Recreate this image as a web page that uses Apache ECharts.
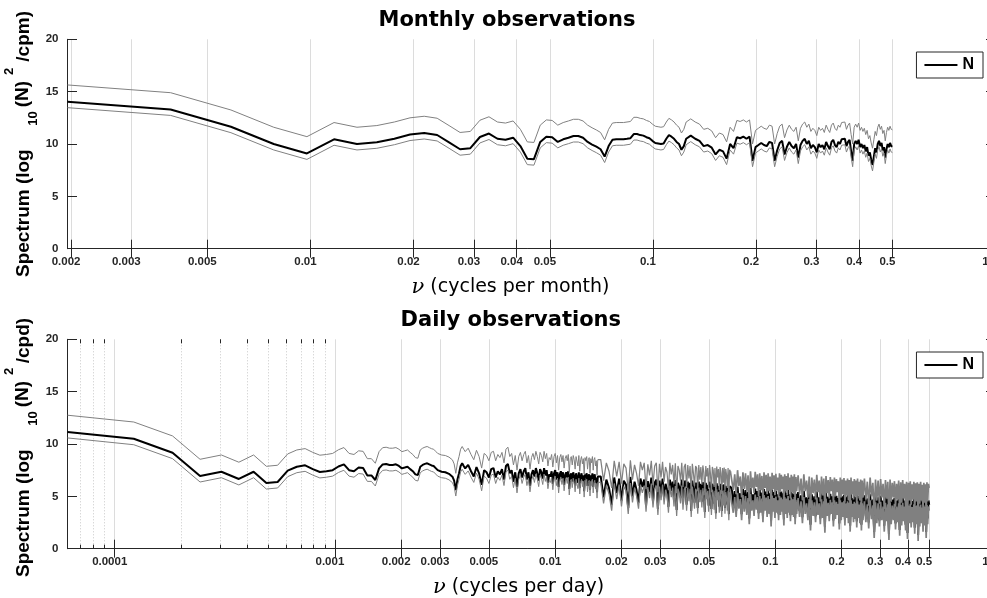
<!DOCTYPE html>
<html><head><meta charset="utf-8">
<script src="https://cdn.jsdelivr.net/npm/echarts@6/dist/echarts.min.js"></script>
<style>html,body{margin:0;padding:0;background:#fff}#c{width:987px;height:598px}</style>
</head><body><div id="c"></div>
<script>
// ---------------- DATA ----------------
// Frequencies are the Fourier harmonics k/N of each record.
const monthlyN = 512;
const monthlyLowStartK = 1, monthlyLowStepK = 1;
const monthlyLow = [14.04, 13.3, 11.65, 10.0, 9.1, 10.45, 10.0, 10.16, 10.5, 10.9,
 11.05, 10.86, 10.16, 9.5, 9.6, 10.67, 11.0, 10.5, 10.4, 10.6,
 9.8, 8.6, 8.55, 10.2, 10.7, 10.65, 10.2, 10.45, 10.6, 10.76,
 10.76, 10.6, 10.2, 9.95, 9.74, 9.5, 8.8, 9.8, 10.4, 10.45,
 10.45, 10.45, 10.5, 10.55, 10.95, 10.95, 10.85, 10.8, 10.65, 10.55,
 10.3, 10.1, 10.05, 10.0, 10.05, 10.5, 10.85, 10.7, 10.5, 10.2,
 10.0, 9.45, 9.8, 10.5];
const monthlyHighStartK = 66, monthlyHighStepK = 2;
const monthlyHigh = [10.8, 10.5, 10.3, 9.8, 9.9, 9.65, 9.0, 9.45, 9.3, 8.6,
 10.0, 9.6, 10.65, 10.55, 10.7, 10.5, 10.7, 8.4, 9.7, 9.9,
 10.1, 9.9, 9.8, 10.2, 10.1, 8.4, 9.4, 10.1, 10.3, 9.0,
 9.74, 10.2, 9.8, 9.6, 10.0, 8.7, 9.9, 10.3, 10.5, 10.0,
 10.3, 9.6, 9.9, 9.7, 9.2, 10.0, 9.7, 9.9, 9.5, 10.2,
 9.8, 9.5, 10.2, 10.4, 9.9, 9.7, 10.2, 10.0, 10.45, 10.3,
 10.5, 9.8, 10.2, 10.4, 9.3, 8.4, 10.0, 10.3, 10.0, 10.4,
 9.7, 10.0, 9.6, 9.9, 9.3, 9.7, 8.9, 9.2, 8.5, 8.0,
 8.8, 9.6, 9.2, 10.0, 10.3, 9.8, 10.1, 9.4, 9.7, 8.7,
 9.5, 10.0, 9.7, 10.1, 9.8, 9.75];

const dailyN = 16384;
const dailyAStartK = 1, dailyAStepK = 1;
const dailyA = [11.15, 10.5, 9.17, 6.94, 7.35, 6.66, 7.35, 6.27, 6.37, 7.45,
 7.83, 7.96, 7.6, 7.33, 7.4, 7.5, 7.85, 8.06, 7.5, 7.4,
 7.75, 7.7, 7.0, 7.0, 6.56, 7.67, 8.05, 8.09, 8.0, 8.0,
 8.06, 7.9, 7.67, 7.75, 7.83, 7.6, 7.4, 7.1, 7.04, 7.83,
 8.0, 8.1, 8.16, 8.05, 7.95, 7.9, 7.7, 7.5, 7.35, 7.35,
 7.4, 7.3, 7.3, 7.15, 7.0, 6.88, 6.5, 5.6, 6.6, 7.2,
 7.9, 8.16, 7.9, 7.67];
const dailyBStartK = 66, dailyBStepK = 2;
const dailyB = [8.0, 7.4, 6.9, 7.8, 7.2, 6.1, 7.5, 7.3, 6.8, 7.6,
 7.7, 6.8, 7.4, 7.1, 7.6, 6.6, 7.9, 8.1, 7.2, 7.5,
 6.4, 7.3, 5.9, 7.2, 7.6, 6.8, 7.4, 7.7, 6.6, 7.3,
 6.0, 7.1, 7.5, 6.9, 7.7, 7.2, 6.5, 7.6, 7.3, 6.7,
 7.7, 7.0, 7.5, 6.3, 7.1, 6.9, 7.4, 6.2, 7.2, 7.5,
 6.6, 7.3, 5.9, 7.1, 7.4, 6.7, 7.3, 6.1, 7.0, 7.3,
 6.8, 7.4, 5.7, 7.0, 7.2, 6.4, 7.3, 6.9, 6.0, 7.2,
 7.1, 6.3, 7.3, 5.8, 6.9, 7.2, 6.5, 7.0, 5.5, 7.1,
 6.8, 7.2, 6.0, 6.9, 7.1, 5.6, 7.0, 6.6, 7.2, 5.9,
 6.9, 7.1, 6.3, 6.8, 5.4, 6.9];
const dailyCStartK = 264, dailyCStepK = 8;
const dailyC = [6.9, 4.9, 6.6, 5.8, 4.2, 6.8, 5.3, 6.7, 4.6, 6.5, 6.1, 3.9,
 6.85, 5.0, 6.4, 5.6, 4.4, 6.7, 5.9, 6.6, 4.1, 6.45, 5.4, 6.8,
 4.5, 6.3, 6.6, 3.8, 6.5, 5.2, 6.7, 4.8, 6.2, 5.7, 4.0, 6.6,
 5.5, 6.4, 4.6, 6.55, 3.7, 6.3, 5.9, 4.9, 6.6, 4.3, 6.2, 6.5,
 4.2, 6.4, 5.1, 6.3, 3.6, 6.5, 5.6, 4.4, 6.3, 6.1, 3.9, 6.4,
 5.0, 6.2, 4.5, 6.35, 5.7, 3.5, 6.3, 5.3, 6.1, 4.1, 6.4, 5.5,
 3.8, 6.2, 5.9, 4.3, 6.1, 3.4, 6.25, 5.2, 6.0, 4.0, 6.2, 5.6,
 3.6, 6.1, 4.7, 6.15, 3.9, 6.0, 5.4, 4.2, 6.1, 3.3, 5.95, 5.8];
const dailyD1StartK = 1040, dailyD1StepK = 16;
const dailyD1 = [5.8, 4.0, 5.5, 3.6, 5.9, 4.4, 5.3, 3.3, 5.7, 4.1, 5.6, 3.8, 5.4, 2.9, 5.8, 4.2,
 5.2, 3.7, 5.75, 4.3, 5.5, 3.4, 5.6, 4.0, 5.35, 3.1, 5.7, 4.2, 5.45, 3.6, 5.6, 3.9,
 5.3, 2.7, 5.65, 4.1, 5.4, 3.5, 5.55, 4.0, 5.2, 3.3, 5.6, 3.8, 5.45, 4.1, 5.3, 2.8,
 5.5, 3.9, 5.35, 3.5, 5.6, 4.0, 5.2, 3.2, 5.45, 3.8, 5.3, 3.6, 5.5, 2.9, 5.25, 3.9];
const dailyD2StartK = 2080, dailyD2StepK = 32;
const dailyD2 = [5.4, 3.6, 5.1, 3.0, 5.5, 3.9, 4.9, 3.3, 5.3, 2.3, 5.2, 3.7, 5.0, 3.1, 5.45, 3.8,
 4.9, 2.9, 5.3, 3.5, 5.1, 2.1, 5.35, 3.7, 4.95, 3.2, 5.25, 3.9, 5.0, 2.7, 5.2, 3.4,
 5.05, 3.8, 4.85, 2.4, 5.2, 3.3, 5.0, 3.6, 5.15, 2.8, 4.9, 3.5, 5.1, 3.0, 4.95, 2.2,
 5.2, 3.6, 4.85, 3.1, 5.05, 3.4, 4.9, 2.6, 5.1, 3.5, 4.8, 3.0, 5.0, 2.3, 4.9, 3.3];
const dailyD3StartK = 4160, dailyD3StepK = 64;
const dailyD3 = [5.1, 3.1, 4.8, 2.5, 5.2, 3.4, 4.7, 1.6, 5.0, 3.0, 4.9, 2.7, 5.05, 3.3, 4.6, 2.2,
 4.95, 3.2, 4.8, 1.4, 5.0, 2.9, 4.7, 3.3, 4.85, 2.4, 4.6, 3.1, 4.9, 1.8, 4.75, 2.8,
 4.95, 3.2, 4.6, 2.3, 4.8, 1.5, 4.7, 3.0, 4.85, 2.6, 4.55, 3.1, 4.8, 2.0, 4.65, 2.9,
 4.75, 1.3, 4.6, 2.7, 4.8, 3.0, 4.5, 2.2, 4.7, 2.8, 4.55, 1.6, 4.75, 2.9, 4.6, 4.2];

// 95% confidence limits (2 d.o.f.) read as constant log10 offsets from the estimate
const ciUpperOffset = 1.6;
const ciLowerOffset = -0.57;

const monthlyTicks = [0.002, 0.003, 0.005, 0.01, 0.02, 0.03, 0.04, 0.05, 0.1, 0.2, 0.3, 0.4, 0.5, 1];
const dailyTicks = [0.0001, 0.001, 0.002, 0.003, 0.005, 0.01, 0.02, 0.03, 0.05, 0.1, 0.2, 0.3, 0.4, 0.5, 1];
const dailyMinorTicks = [0.00007, 0.00008, 0.00009, 0.0002, 0.0003, 0.0004, 0.0005, 0.0006, 0.0007, 0.0008, 0.0009];

// ---------------- BUILD ----------------
function seg(N, k0, dk, vals) { return vals.map((v, i) => [(k0 + i * dk) / N, v]); }
const monthlyEst = seg(monthlyN, monthlyLowStartK, monthlyLowStepK, monthlyLow)
  .concat(seg(monthlyN, monthlyHighStartK, monthlyHighStepK, monthlyHigh));
const dailyLowEst = seg(dailyN, dailyAStartK, dailyAStepK, dailyA)
  .concat(seg(dailyN, dailyBStartK, dailyBStepK, dailyB));
const dailyMidEst = seg(dailyN, dailyCStartK, dailyCStepK, dailyC);
const dailyHighEst = seg(dailyN, dailyD1StartK, dailyD1StepK, dailyD1)
  .concat(seg(dailyN, dailyD2StartK, dailyD2StepK, dailyD2))
  .concat(seg(dailyN, dailyD3StartK, dailyD3StepK, dailyD3));
const dailyEst = dailyLowEst.concat(dailyMidEst, dailyHighEst);
const shift = (arr, d) => arr.map(p => [p[0], p[1] + d]);

const AX = '#262626', GRID = '#dcdcdc';
const LBL = { fontFamily: 'Liberation Sans', fontWeight: 'bold', fontSize: 11.5, color: AX };
const fmt = v => {
  const s = String(parseFloat(Number(v).toPrecision(6)));
  return s === '1' ? '{e|1}' : s;   // edge label sits a little further in, as in the picture
};

function mainX(grid, min, ticks) {
  return {
    type: 'log', logBase: 10, gridIndex: grid, min: min, max: 1, position: 'bottom',
    axisLine: { show: true, lineStyle: { color: AX, width: 1 } },
    axisTick: { show: true, inside: true, length: 9, customValues: ticks, lineStyle: { color: AX } },
    axisLabel: Object.assign({ show: true, customValues: ticks, formatter: fmt, margin: 7, padding: [0, 10, 0, 0],
      rich: { e: { fontFamily: 'Liberation Sans', fontWeight: 'bold', fontSize: 11.5, color: AX, padding: [0, 10, 0, 0] } } }, LBL),
    splitLine: { show: true, lineStyle: { color: GRID, width: 1 } },
    minorTick: { show: false }, minorSplitLine: { show: false }
  };
}
function boxX(grid, min, ticks, pos, len, show, split) {
  return {
    type: 'log', logBase: 10, gridIndex: grid, min: min, max: 1, position: pos,
    axisLine: { show: show, lineStyle: { color: AX, width: 1 } },
    axisTick: { show: true, inside: true, length: len, customValues: ticks, lineStyle: { color: AX } },
    axisLabel: { show: false },
    splitLine: split ? { show: true, lineStyle: { color: '#c8c8c8', width: 1, type: [1, 2] } } : { show: false }
  };
}
function yAx(grid, pos, labels) {
  return {
    type: 'value', gridIndex: grid, min: 0, max: 20, interval: 5, position: pos,
    axisLine: { show: true, lineStyle: { color: AX, width: 1 } },
    axisTick: { show: true, inside: true, length: 9.5, lineStyle: { color: AX } },
    axisLabel: Object.assign({ show: labels, margin: 9 }, LBL),
    splitLine: { show: false }
  };
}
function line(name, xi, yi, data, color, width, z) {
  return { type: 'line', name: name, xAxisIndex: xi, yAxisIndex: yi, data: data, symbol: 'none', showSymbol: false,
    lineStyle: { color: color, width: width }, itemStyle: { color: color }, z: z };
}
// gray confidence limits, drawn over the estimate; line weight increases where harmonics are densest
function ciLines(xi, yi, parts) {
  const out = [];
  parts.forEach(p => {
    out.push(line('upper', xi, yi, shift(p.data, ciUpperOffset), '#808080', p.w, 3));
    out.push(line('lower', xi, yi, shift(p.data, ciLowerOffset), '#808080', p.w, 3));
  });
  return out;
}
function legend(top) {
  return { data: ['N'], right: 4, top: top, padding: [5, 9, 5, 8], itemWidth: 33, itemHeight: 2, icon: 'rect',
    borderColor: AX, borderWidth: 1, backgroundColor: '#fff', selectedMode: false,
    textStyle: { fontFamily: 'Liberation Sans', fontWeight: 'bold', fontSize: 16, color: '#000' } };
}
function txt(x, y, text, font, rot, align) {
  return { type: 'text', x: x, y: y, rotation: rot || 0, silent: true,
    style: { text: text, font: font, fill: '#000', align: align || 'center', verticalAlign: 'middle' } };
}
const B19 = 'bold 19px "Liberation Sans"', B13 = 'bold 13px "Liberation Sans"';
const R90 = Math.PI / 2;
function yLabel(dy, unit) {
  return [
    txt(24, 277 + dy, 'Spectrum (log', B19, R90, 'left'),
    txt(33.5, 125.7 + dy, '10', B13, R90, 'left'),
    txt(23, 107.3 + dy, '(N)', B19, R90, 'left'),
    txt(9.5, 75 + dy, '2', B13, R90, 'left'),
    txt(24, 61.7 + dy + (unit === 'cpd' ? 1.6 : 0), '/' + unit + ')', B19, R90, 'left')
  ];
}
function xName(x, y, text) {
  return { type: 'text', x: x, y: y, silent: true,
    style: { text: '{n|ν} ' + text, font: '19px "DejaVu Sans"', fill: '#000', align: 'center', verticalAlign: 'middle',
      rich: { n: { fontFamily: 'DejaVu Serif', fontStyle: 'italic', fontSize: 21, fill: '#000' } } } };
}

const last = a => a[a.length - 1];
const chart = echarts.init(document.getElementById('c'), null, { renderer: 'canvas' });
chart.setOption({
  animation: false,
  backgroundColor: '#fff',
  grid: [
    { left: 67.5, right: -8.5, top: 39.3, height: 209.4, outerBoundsMode: 'none', containLabel: false },
    { left: 67.5, right: -8.5, top: 339.3, height: 209.4, outerBoundsMode: 'none', containLabel: false }
  ],
  xAxis: [
    mainX(0, 1 / monthlyN, monthlyTicks),
    boxX(0, 1 / monthlyN, monthlyTicks, 'top', 9, true, false),
    mainX(1, 1 / dailyN, dailyTicks),
    boxX(1, 1 / dailyN, dailyTicks, 'top', 9, true, false),
    boxX(1, 1 / dailyN, dailyMinorTicks, 'top', 4, false, true),
    boxX(1, 1 / dailyN, dailyMinorTicks, 'bottom', 4, false, false)
  ],
  yAxis: [yAx(0, 'left', true), yAx(0, 'right', false), yAx(1, 'left', true), yAx(1, 'right', false)],
  legend: [legend(52), legend(352)],
  series: [line('N', 0, 0, monthlyEst, '#000', 2, 2)]
    .concat(ciLines(0, 0, [{ data: monthlyEst, w: 1 }]))
    .concat([line('N', 2, 2, dailyEst, '#000', 2, 2)])
    .concat(ciLines(2, 2, [
      { data: dailyLowEst, w: 1 },
      { data: [last(dailyLowEst)].concat(dailyMidEst), w: 1.25 },
      { data: [last(dailyMidEst)].concat(dailyHighEst), w: 1.7 }
    ])),
  graphic: [
    txt(507, 21, 'Monthly observations', 'bold 21px "DejaVu Sans"'),
    txt(510.8, 321, 'Daily observations', 'bold 21px "DejaVu Sans"'),
    xName(510.5, 287.5, '(cycles per month)'),
    xName(518.5, 587.5, '(cycles per day)')
  ].concat(yLabel(0, 'cpm')).concat(yLabel(300, 'cpd'))
});
</script></body></html>
